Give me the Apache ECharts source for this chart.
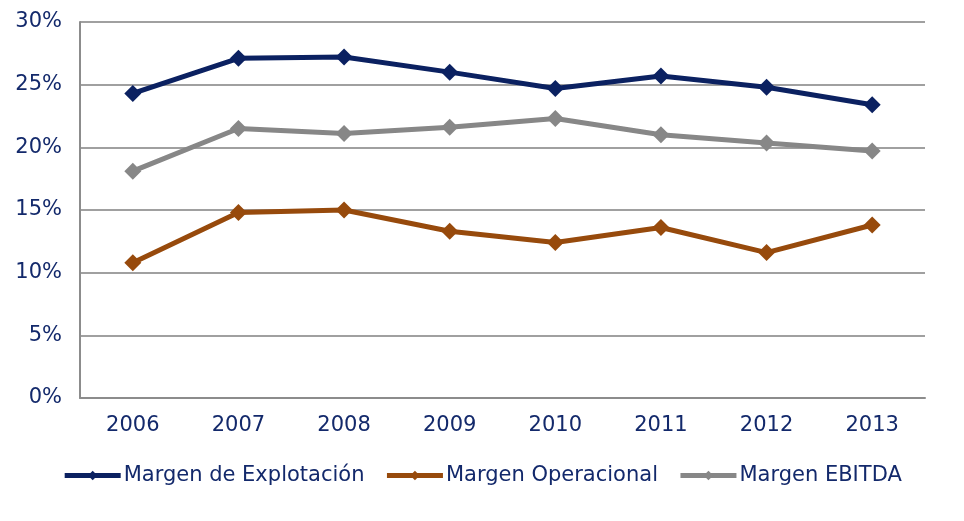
<!DOCTYPE html>
<html>
<head>
<meta charset="utf-8">
<script src="https://cdn.jsdelivr.net/npm/echarts@6/dist/echarts.min.js"></script>
<style>
  html, body { margin: 0; padding: 0; background: #ffffff; }
  #margenChart { width: 964px; height: 521px; }
</style>
</head>
<body>
<div id="margenChart"></div>
<script>
// datos
var years = ['2006', '2007', '2008', '2009', '2010', '2011', '2012', '2013'];
var margenExplotacion = [24.3, 27.1, 27.2, 26.0, 24.7, 25.7, 24.8, 23.4];
var margenOperacional = [10.8, 14.8, 15.0, 13.3, 12.4, 13.6, 11.6, 13.8];
var margenEbitda = [18.1, 21.5, 21.1, 21.6, 22.3, 21.0, 20.35, 19.7];

var textColor = '#13296b';
var fontName = 'DejaVu Sans';

var margenChart = echarts.init(document.getElementById('margenChart'));

function lineSerie(name, data, color) {
	return {
		name : name,
		type : 'line',
		data : data,
		symbol : 'diamond',
		symbolSize : 17,
		showSymbol : true,
		lineStyle : {
			width : 5,
			color : color
		},
		itemStyle : {
			color : color
		},
		emphasis : { disabled : true },
		animation : false
	};
}

var option = {
	backgroundColor : '#ffffff',
	textStyle : {
		fontFamily : fontName,
		color : textColor
	},
	grid : {
		left : 80,
		right : 39,
		top : 22,
		bottom : 123
	},
	legend : {
		top : 460,
		left : 'center',
		itemWidth : 56,
		itemHeight : 12,
		itemGap : 20,
		lineStyle : { width : 5 },
		textStyle : {
			fontFamily : fontName,
			fontSize : 21,
			color : textColor,
			padding : [0, 0, 0, -2]
		},
		data : ['Margen de Explotación', 'Margen Operacional', 'Margen EBITDA']
	},
	xAxis : {
		type : 'category',
		data : years,
		boundaryGap : true,
		axisLine : { lineStyle : { color : '#8c8c8c', width : 2 } },
		axisTick : { show : false },
		axisLabel : {
			fontFamily : fontName,
			fontSize : 21,
			color : textColor,
			margin : 17
		}
	},
	yAxis : {
		type : 'value',
		min : 0,
		max : 30,
		interval : 5,
		axisLine : { show : true, lineStyle : { color : '#8c8c8c', width : 2 } },
		axisTick : { show : false },
		splitLine : { lineStyle : { color : '#a0a0a0', width : 2 } },
		axisLabel : {
			fontFamily : fontName,
			fontSize : 21,
			color : textColor,
			margin : 18,
			formatter : '{value}%'
		}
	},
	series : [
		lineSerie('Margen de Explotación', margenExplotacion, '#0b2161'),
		lineSerie('Margen Operacional', margenOperacional, '#974a0c'),
		lineSerie('Margen EBITDA', margenEbitda, '#878787')
	]
};

margenChart.setOption(option);
</script>
</body>
</html>
